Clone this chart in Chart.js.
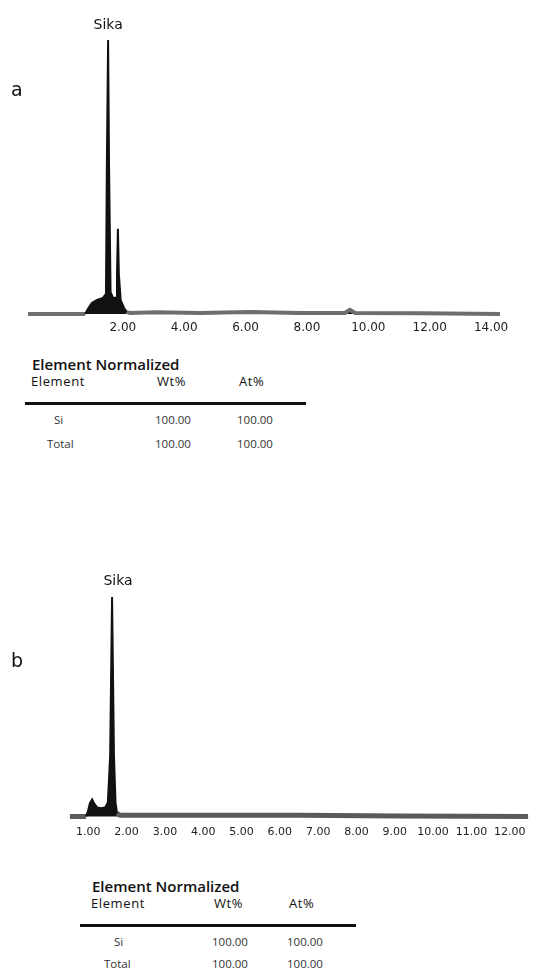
<!DOCTYPE html>
<html>
<head>
<meta charset="utf-8">
<script src="https://cdn.jsdelivr.net/npm/chart.js@4.4.1/dist/chart.umd.min.js"></script>
<style>
body { margin: 0; background: #fff; width: 535px; height: 970px; position: relative; overflow: hidden; font-family: "Open Sans", sans-serif; color: #222; }
canvas { position: absolute; left: 0; }
#chartA { top: 0; }
#chartB { top: 550px; }
.txt { position: absolute; white-space: nowrap; line-height: 1; transform: translateY(-50%); }
.panel { font-family: "DejaVu Sans", sans-serif; font-size: 19px; color: #111; }
.title { font-weight: 600; font-size: 15px; color: #111; }
.head { font-size: 13px; letter-spacing: 0.6px; color: #111; }
.cell { font-size: 11.5px; color: #333; }
.rule { position: absolute; height: 3px; background: #111; }
</style>
</head>
<body>
<canvas id="chartA" width="535" height="345"></canvas>
<canvas id="chartB" width="535" height="300"></canvas>
<div id="page"></div>
<script>
// spectrum a : energy (keV) and counts, scaled so the Si peak = 100
var energyA = [-1.09, 0.77, 0.86, 0.99, 1.16, 1.35, 1.45, 1.48, 1.52, 1.55, 1.60, 1.68, 1.78, 1.81, 1.84, 1.87, 1.93, 2.04, 2.13, 2.23, 3.10, 4.51, 6.14, 7.77, 9.24, 9.40, 9.57, 11.69, 14.29];
var countsA = [0, 0, 1.8, 4.0, 5.1, 5.9, 7.3, 55, 100, 55, 8, 5.9, 5.9, 14.7, 31.1, 14.7, 5.1, 2.2, 0.7, 0.4, 0.6, 0.4, 0.7, 0.4, 0.4, 1.5, 0.4, 0.3, 0];
var ticksA = [2, 4, 6, 8, 10, 12, 14];

// spectrum b
var energyB = [0.52, 0.94, 0.99, 1.04, 1.10, 1.15, 1.23, 1.33, 1.44, 1.51, 1.57, 1.62, 1.67, 1.71, 1.75, 1.83, 3.92, 6.53, 9.14, 12.48];
var countsB = [0, 0, 2.3, 6.0, 7.8, 6.0, 4.1, 3.7, 4.1, 6.4, 27.5, 100, 27.5, 6.4, 1.4, 0.5, 0.5, 0.5, 0.2, 0];
var ticksB = [1, 2, 3, 4, 5, 6, 7, 8, 9, 10, 11, 12];

var peakName = 'Sika';

// element normalized tables
var tableTitle = 'Element Normalized';
var tableHead = ['Element', 'Wt%', 'At%'];
var elementsA = ['Si', 'Total'];
var wtA = ['100.00', '100.00'];
var atA = ['100.00', '100.00'];
var elementsB = ['Si', 'Total'];
var wtB = ['100.00', '100.00'];
var atB = ['100.00', '100.00'];

var peakLabelPlugin = {
    id: 'peakLabel',
    afterDatasetsDraw: function(chart, args, opts) {
        var meta = chart.getDatasetMeta(0);
        var counts = chart.data.datasets[0].data.map(function(p) { return p.y; });
        var top = meta.data[counts.indexOf(Math.max.apply(null, counts))];
        var ctx = chart.ctx;
        ctx.save();
        ctx.font = opts.font;
        ctx.fillStyle = '#111';
        ctx.textAlign = 'center';
        ctx.textBaseline = 'middle';
        ctx.fillText(opts.text, top.x + opts.dx, top.y - opts.dy);
        ctx.restore();
    }
};

function makeChart(id, energy, counts, ticks, s) {
    var points = [];
    for (var i = 0; i < energy.length; i++) {
        points.push({ x: energy[i], y: counts[i] });
    }
    return new Chart(document.getElementById(id), {
        type: 'line',
        data: {
            datasets: [{
                data: points,
                borderColor: s.baseColor,
                backgroundColor: '#111',
                borderWidth: 4,
                pointRadius: 0,
                tension: 0,
                fill: 'origin',
                segment: {
                    // peaks black, noisy baseline grey
                    borderColor: function(c) { return (c.p0.parsed.y > 1.6 || c.p1.parsed.y > 1.6) ? '#111' : s.baseColor; },
                    borderWidth: function(c) { return (c.p0.parsed.y > 1.6 || c.p1.parsed.y > 1.6) ? 2 : s.baseWidth; }
                }
            }]
        },
        options: {
            responsive: false,
            animation: false,
            layout: { padding: s.padding },
            plugins: {
                legend: { display: false },
                tooltip: { enabled: false },
                peakLabel: { text: peakName, font: '14px "DejaVu Sans"', dx: s.labelDx, dy: s.labelDy }
            },
            scales: {
                x: {
                    type: 'linear',
                    min: s.xmin,
                    max: s.xmax,
                    grid: { display: false, drawTicks: false },
                    border: { display: false },
                    ticks: {
                        font: { family: 'DejaVu Sans', size: s.tickSize },
                        color: '#222',
                        padding: s.tickPad,
                        maxRotation: 0,
                        autoSkip: false,
                        callback: function(v) { return v.toFixed(2); }
                    },
                    afterBuildTicks: function(axis) {
                        axis.ticks = ticks.map(function(v) { return { value: v }; });
                    }
                },
                y: { display: false, min: s.ymin, max: s.ymax }
            }
        },
        plugins: [peakLabelPlugin]
    });
}

makeChart('chartA', energyA, countsA, ticksA, {
    xmin: -1.4, xmax: 14.8, ymin: -1.5, ymax: 105,
    padding: { left: 18.5, right: 19.4, top: 26.4, bottom: 6.5 },
    tickSize: 12, tickPad: 3, labelDx: 0, labelDy: 15,
    baseColor: '#6e6e6e', baseWidth: 4
});

makeChart('chartB', energyB, countsB, ticksB, {
    xmin: 0, xmax: 12.6, ymin: -2, ymax: 110,
    padding: { left: 50, right: 2.3, top: 25.2, bottom: 6.8 },
    tickSize: 11, tickPad: 4.6, labelDx: 6, labelDy: 16,
    baseColor: '#5a5a5a', baseWidth: 5
});

// text around the charts
var page = document.getElementById('page');

function place(text, x, y, cls) {
    var d = document.createElement('div');
    d.className = 'txt ' + cls;
    d.style.left = x + 'px';
    d.style.top = y + 'px';
    d.textContent = text;
    page.appendChild(d);
}

function rule(x, y, w) {
    var d = document.createElement('div');
    d.className = 'rule';
    d.style.left = x + 'px';
    d.style.top = y + 'px';
    d.style.width = w + 'px';
    page.appendChild(d);
}

function table(t, elements, wt, at) {
    place(tableTitle, t.x, t.y, 'title');
    place(tableHead[0], t.x - 1, t.y + 17, 'head');
    place(tableHead[1], t.wtX + 2, t.y + 17, 'head');
    place(tableHead[2], t.atX + 2, t.y + 17, 'head');
    rule(t.ruleX, t.y + 38, t.ruleW);
    for (var i = 0; i < elements.length; i++) {
        var y = t.y + 56 + i * t.rowGap;
        place(elements[i], t.elX[i], y, 'cell');
        place(wt[i], t.wtX, y, 'cell');
        place(at[i], t.atX, y, 'cell');
    }
}

place('a', 11, 89, 'panel');
place('b', 11, 660, 'panel');

table({ x: 32, y: 364, wtX: 155, atX: 237, ruleX: 25, ruleW: 281, elX: [54, 47], rowGap: 24 }, elementsA, wtA, atA);
table({ x: 92, y: 886, wtX: 212, atX: 287, ruleX: 80, ruleW: 276, elX: [114, 104], rowGap: 22 }, elementsB, wtB, atB);
</script>
</body>
</html>
